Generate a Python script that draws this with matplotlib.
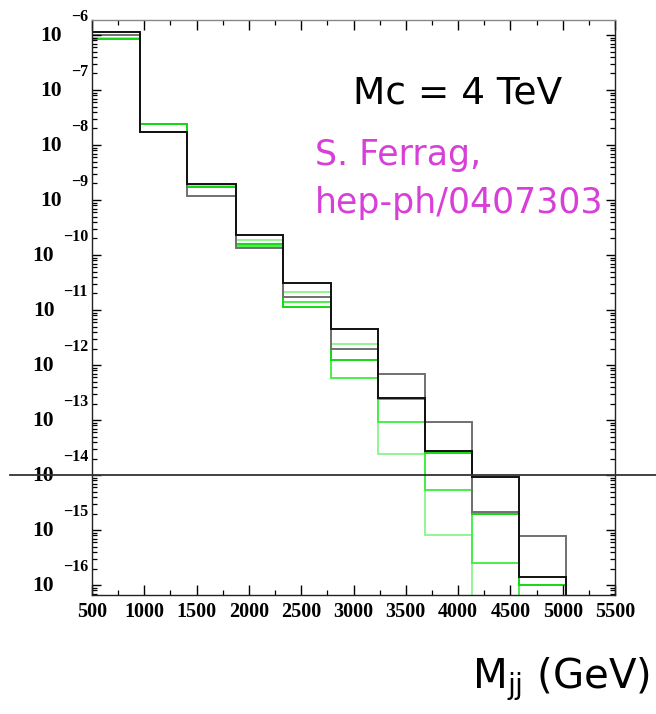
import numpy as np
import matplotlib
matplotlib.use('Agg')
import matplotlib.pyplot as plt
from matplotlib.ticker import FixedLocator, LogLocator, NullFormatter, MultipleLocator

# ---------------- data (log10 of dsigma per bin) ----------------
edges = [500, 959, 1408, 1877, 2323, 2782, 3231, 3681, 4130, 4585, 5031]
log_black = [-5.95, -7.77, -8.70, -9.64, -10.50, -11.34, -12.59, -13.57, -14.03, -15.85]
log_gray = [-6.00, -7.77, -8.93, -9.88, -10.77, -11.70, -12.17, -13.04, -14.67, -15.10]
log_green1 = [-6.08, -7.61, -8.76, -9.80, -10.95, -11.91, -12.62, -13.59, -14.71, -15.99]
log_green2 = [-6.08, -7.61, -8.77, -9.83, -10.85, -12.24, -13.04, -14.27, -15.59, -17.5]
log_green3 = [-6.06, -7.61, -8.75, -9.72, -10.68, -11.61, -13.61, -15.09, -17.5, -17.5]
xticks = [500, 1000, 1500, 2000, 2500, 3000, 3500, 4000, 4500, 5000, 5500]
y_exponents = [-6, -7, -8, -9, -10, -11, -12, -13, -14, -15, -16]

W, H = 656, 714
fig = plt.figure(figsize=(W / 100, H / 100), dpi=100)
L, R, T, B = 92, 615, 20, 595
ax = fig.add_axes([L / W, 1 - B / H, (R - L) / W, (B - T) / H])
ax.set_yscale('log')
ax.set_xlim(500, 5500)
ax.set_ylim(10 ** -16.18, 10 ** -5.727)

series = [
    (log_green3, '#8af58a', 1.3),
    (log_green2, '#3ded3d', 1.3),
    (log_green1, '#14d814', 1.4),
    (log_gray, '#707070', 1.4),
    (log_black, '#111111', 1.4),
]
for vals, col, lw in series:
    ax.stairs(10 ** np.array(vals), edges, baseline=1e-30, fill=False,
              color=col, lw=lw)

# horizontal reference line across the figure
ax.axhline(1e-14, xmin=(10 - L) / (R - L), xmax=(W - L) / (R - L), clip_on=False,
           color='#333333', lw=1.3, zorder=5)

# ticks
serif = 'Liberation Serif'
ax.xaxis.set_major_locator(FixedLocator(xticks))
ax.xaxis.set_minor_locator(MultipleLocator(250))
ax.set_xticklabels([str(t) for t in xticks], fontfamily=serif, fontweight='bold',
                   fontsize=14.5)
ax.tick_params(axis='x', which='both', direction='in', top=True, bottom=True)
ax.tick_params(axis='x', which='major', length=7.2, width=1.0, pad=5)
ax.tick_params(axis='x', which='minor', length=3.8, width=0.9)
ax.yaxis.set_major_locator(FixedLocator([10.0 ** e for e in y_exponents]))
ax.yaxis.set_minor_locator(LogLocator(base=10, subs=np.arange(2, 10), numticks=100))
ax.yaxis.set_minor_formatter(NullFormatter())
ax.tick_params(axis='y', which='both', direction='in', left=True, right=True,
               labelleft=False)
ax.tick_params(axis='y', which='major', length=6.5, width=1.0)
ax.tick_params(axis='y', which='minor', length=3.6, width=0.9)
for s in ax.spines.values():
    s.set_linewidth(1.0)
    s.set_color('#222222')
ax.spines['top'].set_color('#888888')

# y tick labels: "10" with raised exponent (ROOT style)
exp_texts = []
for e in y_exponents:
    t = ax.annotate('\u2212' + str(-e), xy=(0, 10.0 ** e), xycoords=('axes fraction', 'data'),
                    xytext=(-4, 18), textcoords='offset pixels', ha='right', va='center',
                    fontsize=11.5, fontweight='bold', fontfamily=serif)
    exp_texts.append((e, t))
fig.canvas.draw()
rend = fig.canvas.get_renderer()
for e, t in exp_texts:
    w = t.get_window_extent(rend).width
    ax.annotate('10', xy=(0, 10.0 ** e), xycoords=('axes fraction', 'data'),
                xytext=(-4 - w - 9, -1), textcoords='offset pixels', ha='right',
                va='center', fontsize=15.5, fontweight='bold', fontfamily=serif)

# annotations
fig.text(353 / W, 1 - 103 / H, 'Mc = 4 TeV', fontsize=27, color='black',
         fontfamily='DejaVu Sans', va='baseline', ha='left')
fig.text(315 / W, 1 - 165 / H, 'S. Ferrag,', fontsize=25, color='#d83fd8',
         fontfamily='DejaVu Sans', va='baseline', ha='left')
fig.text(315 / W, 1 - 213 / H, 'hep-ph/0407303', fontsize=25, color='#d83fd8',
         fontfamily='DejaVu Sans', va='baseline', ha='left')
fig.text(472 / W, 1 - 688 / H, r'M$_{\mathrm{jj}}$ (GeV)', fontsize=29, color='black',
         fontfamily='DejaVu Sans', va='baseline', ha='left')

fig.savefig('out.png', dpi=100)
